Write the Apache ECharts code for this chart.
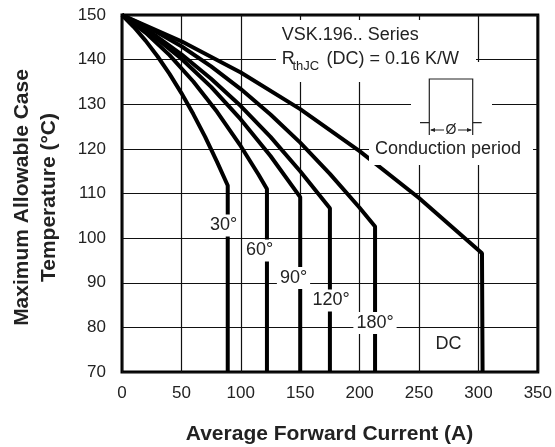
<!DOCTYPE html>
<html><head><meta charset="utf-8">
<script src="https://cdn.jsdelivr.net/npm/echarts/dist/echarts.min.js"></script>
<style>html,body{margin:0;padding:0;background:#fff}#c{width:555px;height:447px}</style>
</head><body><div id="c"></div>
<script>
// Axis ranges / ticks
const xMin = 0, xMax = 350, xStep = 50;
const yMin = 70, yMax = 150, yStep = 10;

// Curves: [Average forward current (A), Max case temperature (°C)]
const curve30  = [[0,150],[10,147.3],[20,144.2],[30,140.7],[40,136.8],[50,132.5],[60,127.8],[70,122.7],[80,117.1],[89,111.8],[89,70]];
const curve60  = [[0,150],[20,146.0],[40,141.0],[60,135.1],[80,128.3],[100,120.6],[115,114.2],[122,111.0],[122,70]];
const curve90  = [[0,150],[25,145.6],[50,140.2],[75,133.9],[100,126.6],[125,118.4],[150,109.2],[150,70]];
const curve120 = [[0,150],[25,146.0],[50,141.2],[75,135.7],[100,129.6],[125,122.7],[150,115.0],[175,106.7],[175,70]];
const curve180 = [[0,150],[25,146.8],[50,143.0],[75,138.5],[100,133.4],[125,127.7],[150,121.4],[175,114.4],[200,106.8],[213,102.6],[213,70]];
const curveDC  = [[0,150],[50,144.1],[100,137.1],[150,128.9],[200,119.5],[250,109.0],[303,96.6],[303.5,70]];

const seriesNames = ['30°','60°','90°','120°','180°','DC'];
const seriesData = [curve30, curve60, curve90, curve120, curve180, curveDC];

const FONT = '"Liberation Sans", Arial, Helvetica, sans-serif';
const chart = echarts.init(document.getElementById('c'), null, {renderer:'canvas'});

function txt(x, y, text, size, opts) {
  opts = opts || {};
  return {
    type: 'text', x: x, y: y, z: 101, rotation: opts.rotation || 0,
    style: Object.assign({
      text: text, fill: '#222',
      font: (opts.bold ? 'bold ' : '') + size + 'px ' + FONT,
      align: opts.align || 'left', verticalAlign: 'middle'
    }, opts.bg ? {backgroundColor: '#fff', padding: opts.pad || [2,3]} : {})
  };
}
function rect(x, y, w, h) {
  return {type: 'rect', z: 100, shape: {x: x, y: y, width: w, height: h}, style: {fill: '#fff'}};
}

const graphics = [
  rect(276, 20, 200, 62),
  rect(411, 62, 81, 76),
  rect(369, 136, 164, 29),
  txt(281.7, 35, 'VSK.196.. Series', 18),
  txt(281.7, 59.2, 'R', 18),
  txt(292.5, 66.5, 'thJC', 13),
  txt(326.5, 59.2, '(DC) = 0.16 K/W', 18),
  txt(375, 149.2, 'Conduction period', 18),
  // waveform symbol
  {type: 'polyline', z: 102, shape: {points: [[420,122.7],[429.3,122.7],[429.3,79],[472.7,79],[472.7,122.7],[481.7,122.7]]}, style: {stroke: '#222', lineWidth: 1.2, fill: null}},
  {type: 'line', z: 102, shape: {x1: 429.3, y1: 122.7, x2: 429.3, y2: 135}, style: {stroke: '#222', lineWidth: 1.2}},
  {type: 'line', z: 102, shape: {x1: 472.7, y1: 122.7, x2: 472.7, y2: 135}, style: {stroke: '#222', lineWidth: 1.2}},
  {type: 'line', z: 102, shape: {x1: 431, y1: 130, x2: 444, y2: 130}, style: {stroke: '#222', lineWidth: 1}},
  {type: 'line', z: 102, shape: {x1: 458, y1: 130, x2: 471, y2: 130}, style: {stroke: '#222', lineWidth: 1}},
  {type: 'polygon', z: 102, shape: {points: [[430,130],[435,128],[435,132]]}, style: {fill: '#222'}},
  {type: 'polygon', z: 102, shape: {points: [[472,130],[467,128],[467,132]]}, style: {fill: '#222'}},
  txt(451, 130, 'Ø', 14, {align: 'center'}),
  // conduction angle labels
  txt(223.5, 225.5, '30°', 18, {align: 'center', bg: true}),
  txt(259.5, 250.5, '60°', 18, {align: 'center', bg: true}),
  txt(293.5, 278, '90°', 18, {align: 'center', bg: true}),
  txt(331, 300.5, '120°', 18, {align: 'center', bg: true}),
  txt(375, 323, '180°', 18, {align: 'center', bg: true}),
  txt(448.5, 344, 'DC', 18, {align: 'center'}),
  // axis titles
  txt(35.5, 197.5, 'Maximum Allowable Case\nTemperature (°C)', 21, {align: 'center', bold: true, rotation: Math.PI/2}),
  txt(329.5, 434, 'Average Forward Current (A)', 21, {align: 'center', bold: true})
];
graphics[graphics.length-2].style.lineHeight = 27;

chart.setOption({
  animation: false,
  backgroundColor: '#fff',
  grid: {left: 122, right: 17, top: 15, bottom: 75, show: true, borderColor: '#000', borderWidth: 3, backgroundColor: 'transparent'},
  xAxis: {
    type: 'value', min: xMin, max: xMax, interval: xStep,
    axisLine: {show: false}, axisTick: {show: false},
    axisLabel: {fontSize: 17, color: '#222', margin: 13, fontFamily: FONT},
    splitLine: {show: true, lineStyle: {color: '#111', width: 1.2}}
  },
  yAxis: {
    type: 'value', min: yMin, max: yMax, interval: yStep,
    axisLine: {show: false}, axisTick: {show: false},
    axisLabel: {fontSize: 17, color: '#222', margin: 16, fontFamily: FONT},
    splitLine: {show: true, lineStyle: {color: '#111', width: 1.2}}
  },
  series: seriesData.map((d, i) => ({
    name: seriesNames[i], type: 'line', data: d, symbol: 'none', smooth: false, z: 3,
    lineStyle: {color: '#000', width: 4}
  })),
  graphic: graphics
});
</script></body></html>
